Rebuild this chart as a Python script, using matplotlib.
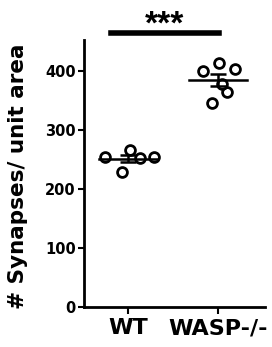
import numpy as np
import matplotlib.pyplot as plt

plt.rcParams['font.family'] = ['DejaVu Sans']
plt.rcParams['font.weight'] = 'bold'

groups = ['WT', 'WASP-/-']
wt_values = [254, 266, 254, 229, 252]
wasp_values = [400, 413, 403, 364, 346, 378]
wt_offsets = [-0.26, 0.02, 0.29, -0.07, 0.13]
wasp_offsets = [-0.17, 0.01, 0.19, 0.10, -0.07, 0.04]
yticks = [0, 100, 200, 300, 400]


def main():
    fig = plt.figure(figsize=(2.72, 3.47), dpi=100)
    ax = fig.add_axes([0.309, 0.115, 0.665, 0.77])

    for i, (vals, offs) in enumerate([(wt_values, wt_offsets), (wasp_values, wasp_offsets)]):
        vals = np.array(vals)
        x = i + np.array(offs)
        ax.scatter(x, vals, s=50, facecolor='white', edgecolor='black', linewidth=2, zorder=3)
        m = vals.mean()
        sem = vals.std(ddof=1) / np.sqrt(len(vals))
        ax.plot([i - 0.32, i + 0.32], [m, m], color='black', lw=1.8, zorder=4)
        ax.errorbar(i, m, yerr=sem, color='black', capsize=6, capthick=1.8, lw=1.8, zorder=4)

    ax.set_xlim(-0.49, 1.52)
    ax.set_ylim(0, 452)
    ax.set_yticks(yticks)
    ax.set_xticks([0, 1])
    ax.set_xticklabels(groups, fontsize=16, fontweight='bold')
    ax.tick_params(axis='y', labelsize=10.5, width=1.5, length=4.5, pad=1.5)
    ax.tick_params(axis='x', width=1.5, length=5, pad=3)
    for s in ['top', 'right']:
        ax.spines[s].set_visible(False)
    ax.spines['left'].set_linewidth(2)
    ax.spines['bottom'].set_linewidth(2)
    ax.set_ylabel('# Synapses/ unit area', fontsize=15.5, fontweight='bold')
    ax.yaxis.set_label_coords(-0.31, 0.49)

    # significance bar
    ax.plot([-0.19, 1.01], [464, 464], color='black', lw=4, clip_on=False)
    ax.text(0.41, 463, '***', ha='center', va='baseline', fontsize=24, fontweight='bold',
            family='Liberation Sans')

    fig.savefig('out.png', dpi=100)


if __name__ == "__main__":
    main()
